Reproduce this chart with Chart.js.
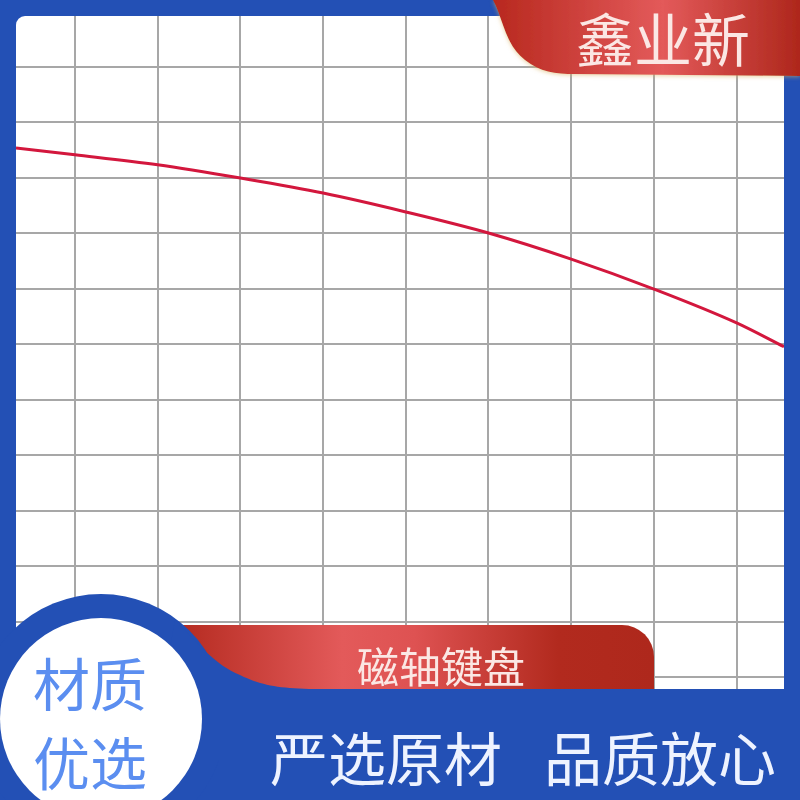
<!DOCTYPE html>
<html>
<head>
<meta charset="utf-8">
<script src="https://cdn.jsdelivr.net/npm/chart.js@4/dist/chart.umd.min.js"></script>
<style>
  html, body { margin: 0; padding: 0; }
  body { width: 800px; height: 800px; background: #2350b5; position: relative; overflow: hidden; }
  #paper { position: absolute; left: 16px; top: 16px; width: 768px; height: 674px; background: #fff; border-top-left-radius: 9px; }
  #chart { position: absolute; left: 0; top: 0; }
  #deco { position: absolute; left: 0; top: 0; }
  text { font-family: "Noto Sans CJK SC", "Noto Sans", sans-serif; }
</style>
</head>
<body>
<div id="paper"></div>
<canvas id="chart" width="800" height="800"></canvas>
<svg id="deco" width="800" height="800" viewBox="0 0 800 800">
  <defs>
    <linearGradient id="topRed" x1="495" y1="0" x2="800" y2="0" gradientUnits="userSpaceOnUse">
      <stop offset="0" stop-color="#b8291f"/>
      <stop offset="0.55" stop-color="#e35a5a"/>
      <stop offset="1" stop-color="#ae271c"/>
    </linearGradient>
    <linearGradient id="pillRed" x1="175" y1="0" x2="654" y2="0" gradientUnits="userSpaceOnUse">
      <stop offset="0" stop-color="#b42a1f"/>
      <stop offset="0.35" stop-color="#e35a5a"/>
      <stop offset="0.5" stop-color="#de5252"/>
      <stop offset="0.8" stop-color="#b22a1e"/>
      <stop offset="1" stop-color="#ae281c"/>
    </linearGradient>
    <filter id="glow" x="-10%" y="-20%" width="130%" height="160%">
      <feDropShadow dx="0" dy="1" stdDeviation="2" flood-color="#d8b060" flood-opacity="0.6"/>
    </filter>
  </defs>

  <!-- top right banner -->
  <path d="M493,0 C503,18 505,45 525,60 C540,72 555,74 575,74 L800,76 L800,0 Z" fill="url(#topRed)" filter="url(#glow)"/>
  <text x="663" y="37" font-size="58" fill="#fbe7e4" text-anchor="middle" dominant-baseline="central">鑫业新</text>

  <!-- bottom red pill -->
  <path d="M150,625 L622,625 A32,32 0 0 1 654,657 L654,700 L150,700 Z" fill="url(#pillRed)"/>
  <text x="441" y="664" font-size="42" fill="#fbe7e4" text-anchor="middle" dominant-baseline="central">磁轴键盘</text>

  <!-- blue band, ring and wave -->
  <rect x="0" y="689" width="800" height="111" fill="#2350b5"/>
  <circle cx="101" cy="719" r="125" fill="#2350b5"/>
  <path d="M175,620 C200,645 215,665 240,675 C260,685 280,689 320,689 L320,760 L150,760 Z" fill="#2350b5"/>
  <circle cx="101" cy="719" r="101" fill="#ffffff"/>

  <text x="90" y="681" font-size="57" fill="#5b8ef0" text-anchor="middle" dominant-baseline="central">材质</text>
  <text x="90" y="760" font-size="57" fill="#5b8ef0" text-anchor="middle" dominant-baseline="central">优选</text>

  <text x="386" y="756" font-size="58" fill="#eef3ff" text-anchor="middle" dominant-baseline="central">严选原材</text>
  <text x="660" y="756" font-size="58" fill="#eef3ff" text-anchor="middle" dominant-baseline="central">品质放心</text>
</svg>

<script>
// curve (x and y in grid cells)
const xValues = [-0.713, 0, 1, 2, 3, 4, 5, 6, 7, 8, 8.573];
const yValues = [9.53, 9.41, 9.23, 8.99, 8.72, 8.38, 8.0, 7.53, 6.99, 6.38, 5.95];

// grid lines
const xTicks = [0, 1, 2, 3, 4, 5, 6, 7, 8];
const yTicks = [0, 1, 2, 3, 4, 5, 6, 7, 8, 9, 10, 11];

const points = xValues.map((x, i) => ({ x, y: yValues[i] }));

function gridAxis(min, max, ticks) {
  return {
    type: 'linear',
    min,
    max,
    afterBuildTicks(scale) {
      scale.ticks = ticks.map((value) => ({ value }));
    },
    ticks: { display: false },
    border: { display: false },
    grid: { color: '#a7a7a7', lineWidth: 2, drawTicks: false },
  };
}

new Chart(document.querySelector('#chart'), {
  type: 'scatter',
  data: {
    datasets: [
      {
        data: points,
        showLine: true,
        borderColor: '#d3173d',
        borderWidth: 3,
        pointRadius: 0,
        cubicInterpolationMode: 'monotone',
      },
    ],
  },
  options: {
    responsive: false,
    animation: false,
    layout: { padding: { left: 16, top: 16, right: 16, bottom: 110 } },
    plugins: {
      legend: { display: false },
      tooltip: { enabled: false },
    },
    scales: {
      x: gridAxis(-0.713, 8.573, xTicks),
      y: gridAxis(-0.234, 11.91, yTicks),
    },
  },
});
</script>
</body>
</html>
